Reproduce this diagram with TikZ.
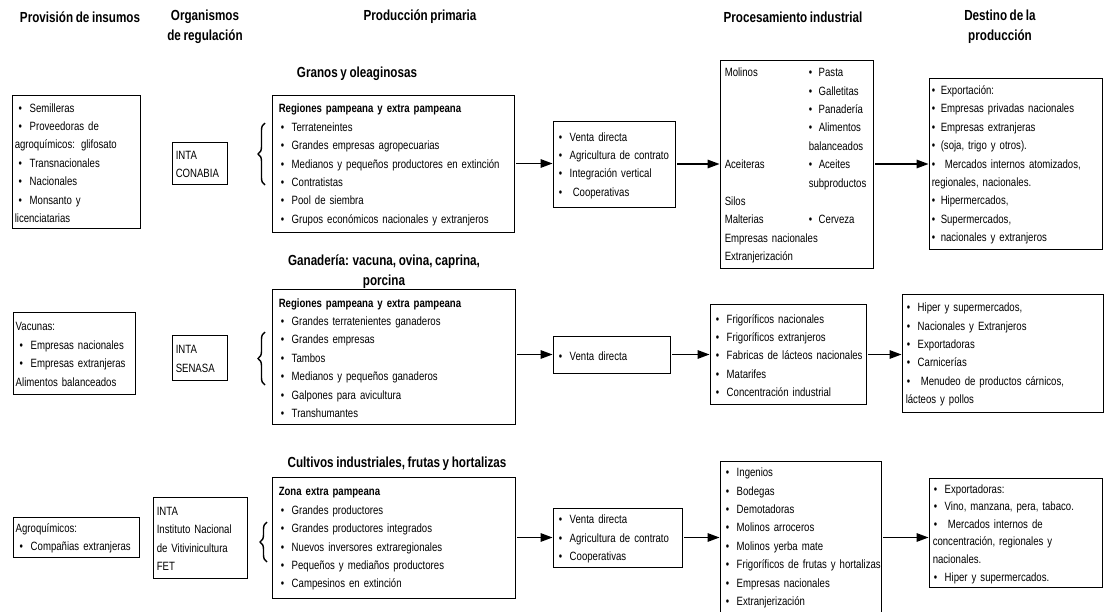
\documentclass[tikz,border=0pt]{standalone}
\usepackage{fontspec}
\setmainfont{Liberation Sans}[FakeStretch=0.80,WordSpace=0.8]
\usetikzlibrary{arrows.meta,decorations.pathreplacing,calc}
\hyphenpenalty=10000 \exhyphenpenalty=10000
\newlength\bli \newlength\blw
\newcommand\bl{\makebox[\blw][l]{\hspace{\bli}•}}
\newcommand\bx[8][]{%
  \pgfmathsetmacro\bw{#5-#3}\pgfmathsetmacro\bh{#6-#4}%
  \node[box,minimum width=\bw pt,minimum height=\bh pt] (#2) at ({(#3+#5)/2},{(#4+#6)/2}) {};
  \node[txt,#1] (#2-t) at ([xshift=#7pt,yshift=-1.5pt]#2.west) {#8};}
\tikzset{
  box/.style={draw,line width=0.9pt,inner sep=0pt},
  txt/.style={anchor=west,inner sep=0pt,text width=320pt,align=left,font=\fontsize{12}{18.4}\selectfont},
  bul/.style 2 args={execute at begin node={\setlength\bli{#1pt}\setlength\blw{#2pt}}},
  head/.style={font=\bfseries\fontsize{14.6}{20}\selectfont,align=center,inner sep=0pt},
  arr/.style={line width=1.5pt,-{Triangle[length=12pt,width=8.5pt]},shorten <=2pt},
  brc/.style={decorate,decoration={brace,amplitude=7pt},line width=1.4pt}
}
\begin{document}
\begin{tikzpicture}[x=1pt,y=-1pt]
\useasboundingbox (0,0) rectangle (1104,611);
% headers
\node[head] (h1) at (80,17) {Provisión de insumos};
\node[head] (h2) at (205,27) {Organismos\\de regulación};
\node[head] (h3) at (420,17) {Producción primaria};
\node[head] (h4) at (793,17) {Procesamiento industrial};
\node[head] (h5) at (1000,27) {Destino de la\\producción};
\node[head] (t1) at (357,74) {Granos y oleaginosas};
\node[head] (t2) at (384,272) {Ganadería: vacuna, ovina, caprina,\\porcina};
\node[head] (t3) at (397,464) {Cultivos industriales, frutas y hortalizas};
% row 1
\bx[bul={4}{15}]{ins1}{12}{95}{140}{228}{3}{\bl Semilleras\\ \bl Proveedoras de\\ agroquímicos: glifosato\\ \bl Transnacionales\\ \bl Nacionales\\ \bl Monsanto y\\ licenciatarias}
\bx{org1}{172}{142}{227}{184}{4}{INTA\\ CONABIA}
\bx[bul={2}{13}]{prod1}{272}{95}{514}{232}{7}{\textbf{Regiones pampeana y extra pampeana}\\ \bl Terrateneintes\\ \bl Grandes empresas agropecuarias\\ \bl Medianos y pequeños productores en extinción\\ \bl Contratistas\\ \bl Pool de siembra\\ \bl Grupos económicos nacionales y extranjeros}
\bx[bul={1}{12}]{ven1}{553}{121}{675}{207}{5}{\bl Venta directa\\ \bl Agricultura de contrato\\ \bl Integración vertical\\ \bl \hspace{3pt}Cooperativas}
\bx[bul={0}{10}]{proc1}{720}{60}{873}{268}{5}{\makebox[84pt][l]{Molinos}\bl Pasta\\ \hspace*{84pt}\bl Galletitas\\ \hspace*{84pt}\bl Panadería\\ \hspace*{84pt}\bl Alimentos\\ \hspace*{84pt}balanceados\\ \makebox[84pt][l]{Aceiteras}\bl Aceites\\ \hspace*{84pt}subproductos\\ Silos\\ \makebox[84pt][l]{Malterias}\bl Cerveza\\ Empresas nacionales\\ Extranjerización}
\bx[bul={0}{9}]{dest1}{929}{78}{1102}{249}{3}{\bl Exportación:\\ \bl Empresas privadas nacionales\\ \bl Empresas extranjeras\\ \bl (soja, trigo y otros).\\ \bl \hspace{4pt}Mercados internos atomizados,\\ regionales, nacionales.\\ \bl Hipermercados,\\ \bl Supermercados,\\ \bl nacionales y extranjeros}
\draw[brc] (265,185) -- (265,123);
\draw[arr] (prod1.east) -- (prod1.east -| ven1.west);
\draw[arr] (ven1.east) -- (ven1.east -| proc1.west);
\draw[arr] (proc1.east) -- (proc1.east -| dest1.west);
% row 2
\bx[bul={4}{15}]{ins2}{13}{312}{135}{394}{3}{Vacunas:\\ \bl Empresas nacionales\\ \bl Empresas extranjeras\\ Alimentos balanceados}
\bx{org2}{172}{335}{227}{380}{4}{INTA\\ SENASA}
\bx[bul={2}{13}]{prod2}{272}{289}{515}{424}{7}{\textbf{Regiones pampeana y extra pampeana}\\ \bl Grandes terratenientes ganaderos\\ \bl Grandes empresas\\ \bl Tambos\\ \bl Medianos y pequeños ganaderos\\ \bl Galpones para avicultura\\ \bl Transhumantes}
\bx[bul={1}{12}]{ven2}{553}{336}{670}{373}{5}{\bl Venta directa}
\bx[bul={1}{12}]{proc2}{710}{304}{866}{404}{5}{\bl Frigoríficos nacionales\\ \bl Frigoríficos extranjeros\\ \bl Fabricas de lácteos nacionales\\ \bl Matarifes\\ \bl Concentración industrial}
\bx[bul={1}{12}]{dest2}{902}{294}{1103}{412}{4}{\bl Hiper y supermercados,\\ \bl Nacionales y Extranjeros\\ \bl Exportadoras\\ \bl Carnicerías\\ \bl \hspace{3pt}Menudeo de productos cárnicos,\\ lácteos y pollos}
\draw[brc] (265,385) -- (265,332);
\draw[arr] (prod2.east |- ven2.west) -- (ven2.west);
\draw[arr] (ven2.east) -- (ven2.east -| proc2.west);
\draw[arr] (proc2.east |- ven2.east) -- (ven2.east -| dest2.west);
% row 3
\bx[bul={4}{15}]{ins3}{13}{517}{139}{557}{3}{Agroquímicos:\\ \bl Compañias extranjeras}
\bx{org3}{153}{497}{247}{578}{4}{INTA\\ Instituto Nacional\\ de Vitivinicultura\\ FET}
\bx[bul={2}{13}]{prod3}{272}{477}{515}{598}{7}{\textbf{Zona extra pampeana}\\ \bl Grandes productores\\ \bl Grandes productores integrados\\ \bl Nuevos inversores extraregionales\\ \bl Pequeños y mediaños productores\\ \bl Campesinos en extinción}
\bx[bul={1}{12}]{ven3}{553}{508}{682}{567}{5}{\bl Venta directa\\ \bl Agricultura de contrato\\ \bl Cooperativas}
\bx[bul={1}{12}]{proc3}{720}{461}{881}{612}{5}{\bl Ingenios\\ \bl Bodegas\\ \bl Demotadoras\\ \bl Molinos arroceros\\ \bl Molinos yerba mate\\ \bl Frigoríficos de frutas y hortalizas\\ \bl Empresas nacionales\\ \bl Extranjerización}
\bx[bul={1}{12},font=\fontsize{12}{17.6}\selectfont]{dest3}{929}{478}{1102}{587}{4}{\bl Exportadoras:\\ \bl Vino, manzana, pera, tabaco.\\ \bl \hspace{3pt}Mercados internos de\\ concentración, regionales y\\ nacionales.\\ \bl Hiper y supermercados.}
\draw[brc] (267,562) -- (267,522);
\draw[arr] (prod3.east |- ven3.west) -- (ven3.west);
\draw[arr] (ven3.east) -- (ven3.east -| proc3.west);
\draw[arr] (proc3.east |- ven3.east) -- (ven3.east -| dest3.west);
\end{tikzpicture}
\end{document}
